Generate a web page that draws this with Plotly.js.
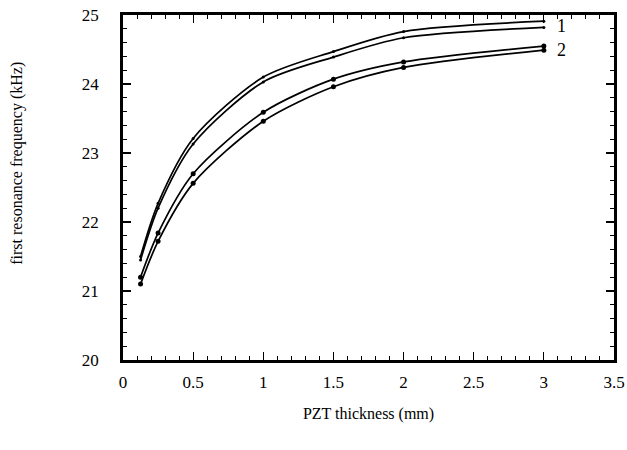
<!DOCTYPE html>
<html>
<head>
<meta charset="utf-8">
<script src="https://cdn.plot.ly/plotly-3.0.1.min.js"></script>
<style>html,body{margin:0;padding:0;background:#fff}#chart{width:627px;height:450px}</style>
</head>
<body>
<div id="chart"></div>
<script>
const thickness = [0.125, 0.25, 0.5, 1, 1.5, 2, 3];
const curve1a = [21.50, 22.27, 23.21, 24.10, 24.47, 24.76, 24.91];
const curve1b = [21.45, 22.20, 23.13, 24.03, 24.39, 24.67, 24.82];
const curve2a = [21.20, 21.84, 22.70, 23.59, 24.07, 24.32, 24.55];
const curve2b = [21.10, 21.72, 22.56, 23.46, 23.96, 24.24, 24.49];
const xTicks = [0, 0.5, 1, 1.5, 2, 2.5, 3, 3.5];
const xTickText = ['0', '0.5', '1', '1.5', '2', '2.5', '3', '3.5'];
const yTicks = [20, 21, 22, 23, 24, 25];
const labels = ['1', '2'];
const labelY = [24.84, 24.49];
const yTitle = 'first resonance frequency (kHz)';
const xTitle = 'PZT thickness (mm)';

const font = 'Liberation Serif, Times New Roman, serif';
function tr(y, size) {
  return {x: thickness, y: y, type: 'scatter', mode: 'lines+markers',
    line: {color: '#000', width: 1.7, shape: 'spline', smoothing: 0.8},
    marker: {color: '#000', size: size}, showlegend: false, hoverinfo: 'none'};
}
const data = [tr(curve1a, 3), tr(curve1b, 3), tr(curve2a, 5), tr(curve2b, 5)];
const annots = labels.map((t, i) => ({x: 3.08, y: labelY[i], xref: 'x', yref: 'y',
    text: t, showarrow: false, xanchor: 'left', font: {size: 18, family: font}}));
annots.push({xref: 'paper', yref: 'paper', x: -0.215, y: 0.57, text: yTitle,
  textangle: -90, showarrow: false, xanchor: 'center', yanchor: 'middle',
  font: {size: 16, family: font}});
const layout = {
  width: 627, height: 450,
  margin: {l: 123, r: 13, t: 15, b: 90},
  paper_bgcolor: '#fff', plot_bgcolor: '#fff',
  font: {family: font, color: '#000', size: 17},
  xaxis: {range: [0, 3.5], tickvals: xTicks, ticktext: xTickText,
    ticks: 'inside', ticklen: 8, tickwidth: 1.2, tickcolor: '#000',
    showline: true, linecolor: '#000', linewidth: 2.8, mirror: 'allticks',
    showgrid: false, zeroline: false, ticklabelstandoff: 5, ticklabeloverflow: 'allow',
    minor: {dtick: 0.1, ticks: 'inside', ticklen: 4, tickcolor: '#000', tickwidth: 1, showgrid: false},
    title: {text: xTitle, font: {size: 16}, standoff: 17}},
  yaxis: {range: [20, 25], tickvals: yTicks,
    ticks: 'inside', ticklen: 8, tickwidth: 1.2, tickcolor: '#000',
    showline: true, linecolor: '#000', linewidth: 2.8, mirror: 'allticks',
    showgrid: false, zeroline: false, ticklabelstandoff: 18, ticklabeloverflow: 'allow',
    minor: {dtick: 0.2, ticks: 'inside', ticklen: 4, tickcolor: '#000', tickwidth: 1, showgrid: false}},
  annotations: annots
};
Plotly.newPlot('chart', data, layout, {displayModeBar: false, staticPlot: true});
</script>
</body>
</html>
